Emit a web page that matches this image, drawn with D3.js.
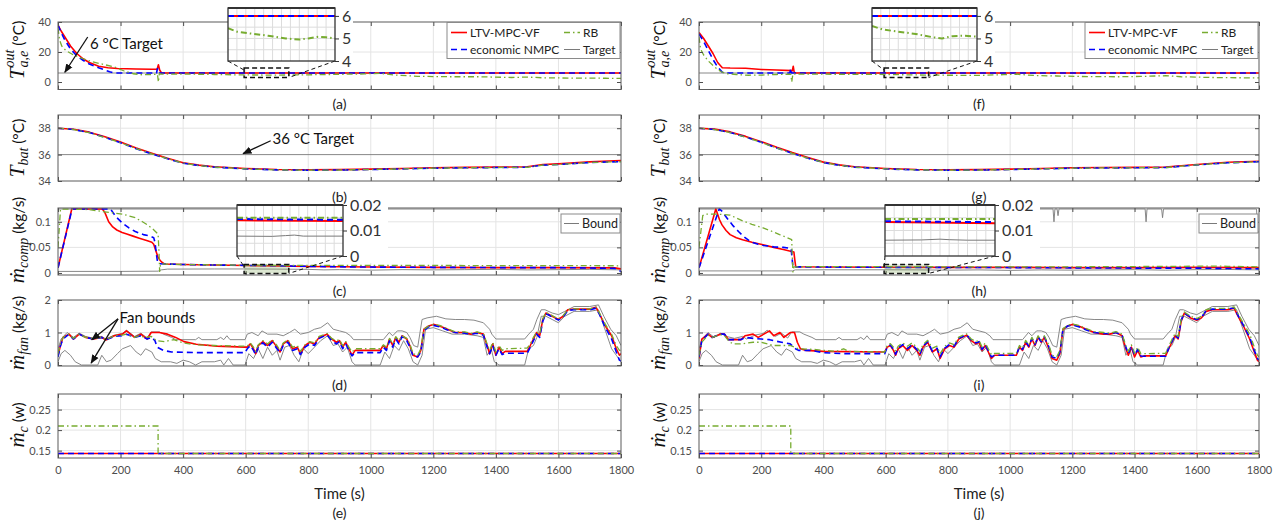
<!DOCTYPE html>
<html>
<head>
<meta charset="utf-8">
<script src="https://cdn.jsdelivr.net/npm/d3@7"></script>
<style>
  body { margin: 0; background: #fff; }
  text { font-family: Lato, "Open Sans", sans-serif; }
</style>
</head>
<body>
<svg id="chart" width="1284" height="521"></svg>
<script>
// ---------- data ----------
const timeTicks = [0, 200, 400, 600, 800, 1000, 1200, 1400, 1600, 1800];
const panelLetters = [['(a)', '(b)', '(c)', '(d)', '(e)'], ['(f)', '(g)', '(h)', '(i)', '(j)']];
const legendNames = ['LTV-MPC-VF', 'economic NMPC', 'RB', 'Target'];

// (a)/(f) evaporator outlet air temperature
const toutTarget = [[0, 6], [1800, 6]];
const toutRedL = [[0, 38], [10, 34], [22, 30], [40, 24], [60, 19], [80, 15.5], [100, 13], [130, 10.5], [160, 9.5], [190, 9], [250, 8.7], [300, 8.5], [317, 8.5], [321, 11.5], [325, 8], [331, 6], [1800, 6]];
const toutBlueL = [[0, 38], [10, 33], [22, 28], [40, 22], [60, 17.5], [80, 14.5], [100, 12], [130, 9.5], [150, 8], [165, 6.8], [180, 6], [315, 6], [318, 9], [321, 6], [1800, 6]];
const toutGreenL = [[0, 36], [5, 28], [12, 24], [25, 21], [50, 18], [80, 15.5], [110, 13.5], [150, 11.5], [180, 10], [210, 7.5], [240, 5.5], [270, 4.8], [300, 5], [318, 5.2], [321, 0], [324, 5.5], [330, 5.2], [400, 5.3], [500, 5], [600, 4.7], [700, 4.6], [800, 4.8], [900, 5.1], [980, 5.4], [1030, 5.8], [1080, 4.6], [1150, 3.8], [1250, 3.5], [1350, 3.5], [1450, 3], [1500, 3.3], [1550, 2.8], [1650, 2.6], [1750, 2.5], [1800, 2.4]];
const toutRedR = [[0, 33], [15, 29], [30, 24], [45, 19], [60, 13], [75, 9.5], [100, 9.3], [150, 9.2], [200, 8.3], [250, 8], [300, 7.6], [303, 10.5], [306, 6.5], [310, 6], [1800, 6]];
const toutBlueR = [[0, 32], [15, 27], [30, 21], [45, 15], [60, 10], [75, 6.5], [85, 6], [292, 6], [295, 9], [298, 6], [1800, 6]];
const toutGreenR = [[0, 30], [5, 22], [15, 18], [30, 14], [50, 10], [70, 7], [90, 5.5], [120, 5], [160, 4.5], [200, 4.6], [250, 5], [295, 5.2], [298, 0], [302, 5.5], [310, 5.2], [400, 5.2], [500, 5.1], [600, 5], [700, 4.7], [800, 4.5], [900, 4.4], [980, 4.9], [1020, 5.2], [1080, 4.3], [1150, 4], [1250, 3.6], [1350, 3.5], [1420, 3.7], [1500, 4.2], [1550, 3.5], [1650, 3], [1750, 2.8], [1800, 2.8]];

// (b)/(g) battery temperature
const tbatTarget = [[0, 36], [1800, 36]];
const tbatRedL = [[0, 38], [50, 37.92], [100, 37.7], [150, 37.35], [200, 36.95], [250, 36.5], [300, 36.1], [350, 35.72], [400, 35.38], [450, 35.2], [500, 35.08], [600, 34.95], [700, 34.87], [800, 34.85], [900, 34.86], [1000, 34.9], [1100, 34.95], [1200, 35.0], [1300, 35.03], [1400, 35.05], [1500, 35.08], [1550, 35.25], [1600, 35.3], [1700, 35.45], [1800, 35.55]];
const tbatBlueL = [[0, 38], [50, 37.9], [100, 37.67], [150, 37.3], [200, 36.9], [250, 36.45], [300, 36.05], [350, 35.68], [400, 35.35], [450, 35.17], [500, 35.05], [600, 34.92], [700, 34.84], [800, 34.82], [900, 34.83], [1000, 34.87], [1100, 34.92], [1200, 34.97], [1300, 35.0], [1400, 35.02], [1500, 35.04], [1550, 35.2], [1600, 35.25], [1700, 35.4], [1800, 35.47]];
const tbatGreenL = [[0, 38], [50, 37.9], [100, 37.66], [150, 37.3], [200, 36.9], [250, 36.46], [300, 36.06], [350, 35.69], [400, 35.36], [450, 35.17], [500, 35.05], [600, 34.92], [700, 34.84], [800, 34.82], [900, 34.83], [1000, 34.87], [1100, 34.92], [1200, 34.97], [1300, 35.0], [1400, 35.02], [1500, 35.04], [1550, 35.2], [1600, 35.25], [1700, 35.4], [1800, 35.46]];
const tbatRedR = [[0, 38], [50, 37.93], [100, 37.72], [150, 37.38], [200, 36.98], [250, 36.55], [300, 36.15], [350, 35.78], [400, 35.43], [450, 35.22], [500, 35.08], [600, 34.95], [700, 34.87], [800, 34.85], [900, 34.86], [1000, 34.9], [1100, 34.95], [1200, 35.0], [1300, 35.02], [1400, 35.03], [1500, 35.05], [1550, 35.15], [1600, 35.25], [1700, 35.42], [1800, 35.5]];
const tbatBlueR = [[0, 38], [50, 37.9], [100, 37.68], [150, 37.33], [200, 36.93], [250, 36.5], [300, 36.1], [350, 35.73], [400, 35.4], [450, 35.19], [500, 35.05], [600, 34.92], [700, 34.84], [800, 34.82], [900, 34.83], [1000, 34.87], [1100, 34.92], [1200, 34.97], [1300, 34.99], [1400, 35.0], [1500, 35.02], [1550, 35.12], [1600, 35.22], [1700, 35.38], [1800, 35.46]];
const tbatGreenR = [[0, 38], [50, 37.9], [100, 37.67], [150, 37.32], [200, 36.92], [250, 36.5], [300, 36.1], [350, 35.73], [400, 35.4], [450, 35.19], [500, 35.05], [600, 34.92], [700, 34.84], [800, 34.82], [900, 34.83], [1000, 34.87], [1100, 34.92], [1200, 34.97], [1300, 34.99], [1400, 35.0], [1500, 35.02], [1550, 35.12], [1600, 35.22], [1700, 35.38], [1800, 35.45]];

// (c)/(h) compressor mass flow
const compRedL = [[0, 0.01], [44, 0.125], [142, 0.125], [150, 0.118], [162, 0.1], [175, 0.09], [188, 0.084], [205, 0.079], [220, 0.076], [240, 0.072], [260, 0.068], [286, 0.063], [300, 0.06], [306, 0.056], [312, 0.045], [319, 0.032], [326, 0.025], [332, 0.021], [340, 0.0175], [400, 0.0165], [500, 0.0155], [600, 0.0145], [700, 0.0135], [800, 0.0125], [900, 0.012], [1000, 0.0115], [1200, 0.011], [1400, 0.0105], [1600, 0.0105], [1780, 0.01], [1800, 0.008]];
const compBlueL = [[0, 0.01], [45, 0.125], [168, 0.125], [185, 0.11], [207, 0.097], [227, 0.088], [247, 0.081], [273, 0.075], [295, 0.072], [306, 0.069], [310, 0.06], [314, 0.04], [318, 0.022], [325, 0.018], [340, 0.0175], [400, 0.0165], [500, 0.0155], [600, 0.0148], [700, 0.014], [800, 0.013], [900, 0.012], [1000, 0.0115], [1200, 0.011], [1400, 0.0105], [1600, 0.0105], [1780, 0.009], [1800, 0.003]];
const compGreenL = [[0, 0.05], [8, 0.125], [100, 0.124], [142, 0.12], [207, 0.115], [247, 0.108], [270, 0.1], [286, 0.094], [305, 0.085], [320, 0.076], [323, 0.04], [325, 0.003], [328, 0.018], [340, 0.0175], [400, 0.0165], [500, 0.0158], [600, 0.0152], [700, 0.015], [900, 0.0148], [1100, 0.0148], [1300, 0.0145], [1500, 0.0145], [1700, 0.0142], [1800, 0.014]];
const compLowL = [[0, 0.003], [200, 0.003], [320, 0.0035], [330, 0.006], [350, 0.0075], [500, 0.0078], [600, 0.0078], [700, 0.0075], [800, 0.007], [850, 0.006], [900, 0.0065], [1000, 0.0055], [1100, 0.0065], [1200, 0.006], [1300, 0.0065], [1400, 0.007], [1500, 0.006], [1600, 0.0065], [1700, 0.007], [1800, 0.006]];
const compUpL = [[0, 0.125], [1800, 0.125]];
const compRedR = [[0, 0.01], [54, 0.125], [58, 0.118], [66, 0.104], [74, 0.094], [87, 0.083], [100, 0.075], [120, 0.069], [140, 0.065], [170, 0.06], [206, 0.055], [240, 0.05], [271, 0.046], [291, 0.043], [305, 0.041], [308, 0.025], [311, 0.012], [400, 0.0115], [600, 0.0112], [800, 0.011], [1000, 0.011], [1200, 0.0105], [1400, 0.0105], [1600, 0.011], [1800, 0.0105]];
const compBlueR = [[0, 0.01], [65, 0.125], [72, 0.122], [94, 0.104], [110, 0.092], [127, 0.081], [146, 0.07], [166, 0.061], [190, 0.056], [206, 0.054], [240, 0.051], [271, 0.05], [296, 0.048], [299, 0.03], [302, 0.012], [400, 0.0115], [600, 0.011], [800, 0.0108], [1000, 0.0105], [1200, 0.01], [1400, 0.0095], [1600, 0.0095], [1800, 0.008]];
const compGreenR = [[0, 0.05], [12, 0.112], [21, 0.115], [60, 0.115], [100, 0.113], [140, 0.102], [170, 0.095], [206, 0.088], [240, 0.08], [259, 0.075], [280, 0.07], [298, 0.065], [300, 0.03], [302, 0.002], [305, 0.012], [400, 0.0125], [600, 0.0125], [800, 0.012], [1000, 0.012], [1200, 0.012], [1400, 0.0125], [1550, 0.013], [1650, 0.0135], [1700, 0.013], [1800, 0.012]];
const compLowR = [[0, 0.004], [200, 0.004], [300, 0.004], [310, 0.006], [400, 0.0062], [600, 0.0062], [700, 0.006], [800, 0.0055], [900, 0.006], [1000, 0.005], [1100, 0.006], [1200, 0.0055], [1300, 0.006], [1400, 0.0065], [1500, 0.0055], [1600, 0.0065], [1700, 0.0068], [1800, 0.006]];
const compUpR = [[0, 0.125], [1138, 0.125], [1141, 0.1], [1144, 0.125], [1151, 0.125], [1154, 0.112], [1157, 0.125], [1434, 0.125], [1437, 0.1], [1440, 0.125], [1487, 0.125], [1490, 0.108], [1493, 0.125], [1792, 0.125], [1796, 0.08], [1800, 0.08]];

// (d)/(i) fan mass flow
const fanUpper = [[0, 0.5], [10, 0.8], [29, 1.0], [49, 0.85], [68, 0.98], [88, 0.88], [114, 0.82], [140, 0.88], [153, 0.8], [180, 0.92], [206, 0.97], [219, 1.07], [245, 0.88], [265, 0.98], [285, 0.83], [298, 1.02], [324, 1.02], [337, 0.95], [363, 0.85], [376, 0.78], [440, 0.78], [450, 0.85], [460, 0.78], [508, 0.78], [520, 0.85], [530, 0.78], [540, 0.9], [550, 0.78], [598, 0.78], [605, 0.95], [620, 1.0], [640, 0.9], [652, 1.05], [670, 0.95], [700, 0.95], [720, 0.9], [740, 1.0], [757, 1.1], [775, 0.95], [800, 1.0], [820, 1.1], [840, 1.15], [862, 1.3], [880, 1.1], [900, 1.05], [920, 1.0], [935, 0.9], [945, 0.78], [1040, 0.78], [1059, 1.0], [1070, 0.9], [1085, 1.05], [1100, 1.05], [1115, 1.0], [1125, 0.85], [1137, 0.6], [1150, 0.55], [1164, 1.4], [1180, 1.45], [1210, 1.5], [1240, 1.42], [1270, 1.4], [1300, 1.4], [1330, 1.38], [1360, 1.3], [1380, 1.1], [1387, 0.95], [1400, 0.8], [1492, 0.8], [1505, 0.95], [1520, 1.1], [1531, 1.4], [1545, 1.7], [1557, 1.7], [1580, 1.6], [1600, 1.55], [1620, 1.65], [1650, 1.8], [1700, 1.8], [1728, 1.85], [1745, 1.5], [1767, 1.1], [1785, 0.9], [1800, 0.6]];
const fanLower = [[0, 0.1], [10, 0.35], [22, 0.45], [40, 0.3], [55, 0.1], [75, 0], [127, 0], [140, 0.3], [155, 0.1], [170, 0.15], [190, 0.35], [206, 0.5], [232, 0.6], [250, 0.4], [265, 0.3], [280, 0.5], [300, 0.4], [311, 0.2], [330, 0.1], [360, 0.1], [380, 0.05], [400, 0.15], [420, 0.1], [440, 0], [460, 0.1], [500, 0.1], [520, 0.15], [530, 0], [545, 0.2], [560, 0], [598, 0], [610, 0.35], [625, 0.2], [640, 0.5], [655, 0.2], [670, 0.55], [685, 0.3], [700, 0.45], [710, 0.15], [725, 0.55], [740, 0.6], [755, 0.3], [770, 0.1], [785, 0.5], [800, 0.35], [820, 0.55], [840, 0.75], [862, 0.9], [880, 0.6], [895, 0.65], [910, 0.4], [925, 0.55], [940, 0.1], [950, 0], [1030, 0], [1045, 0.4], [1060, 0.2], [1075, 0.6], [1090, 0.45], [1105, 0.75], [1120, 0.5], [1135, 0.1], [1150, 0], [1164, 0.3], [1175, 1.1], [1200, 1.15], [1230, 1.05], [1260, 0.95], [1300, 0.95], [1340, 0.9], [1360, 0.85], [1372, 0.3], [1385, 0.5], [1395, 0.1], [1410, 0], [1492, 0], [1505, 0.5], [1520, 0.6], [1531, 0.85], [1545, 1.5], [1560, 1.5], [1580, 1.4], [1600, 1.3], [1620, 1.5], [1650, 1.65], [1700, 1.65], [1728, 1.7], [1745, 1.2], [1770, 0.5], [1785, 0.3], [1800, 0.1]];
const fanRedL = [[0, 0.3], [8, 0.6], [16, 0.85], [35, 0.95], [49, 0.8], [68, 0.95], [88, 0.85], [114, 0.8], [140, 0.85], [153, 0.77], [180, 0.9], [206, 0.95], [219, 1.05], [245, 0.85], [265, 0.95], [285, 0.8], [298, 1.0], [324, 1.0], [350, 0.95], [376, 0.85], [403, 0.72], [442, 0.64], [508, 0.58], [598, 0.55],
  [605, 0.55], [615, 0.65], [625, 0.5], [632, 0.35], [640, 0.6], [655, 0.72], [670, 0.6], [685, 0.75], [700, 0.55], [710, 0.4], [720, 0.65], [735, 0.75], [750, 0.5], [765, 0.55], [775, 0.35], [790, 0.6], [805, 0.7], [820, 0.65], [835, 0.85], [860, 0.95], [875, 0.8], [890, 0.7], [900, 0.75], [910, 0.55], [920, 0.7], [930, 0.5], [940, 0.3], [950, 0.45], [1030, 0.45], [1040, 0.6], [1050, 0.5], [1060, 0.8], [1070, 0.6], [1080, 0.85], [1090, 0.7], [1100, 0.9], [1115, 0.8], [1125, 0.6], [1135, 0.3], [1150, 0.25], [1160, 0.45], [1170, 1.1], [1185, 1.2], [1200, 1.25], [1220, 1.2], [1245, 1.1], [1270, 1.0], [1300, 1.0], [1320, 0.95], [1340, 1.0], [1360, 0.95], [1372, 0.6], [1380, 0.35], [1390, 0.65], [1400, 0.3], [1410, 0.55], [1420, 0.35], [1430, 0.42], [1500, 0.42], [1510, 0.6], [1520, 0.8], [1530, 1.0], [1540, 0.9], [1550, 1.4], [1560, 1.6], [1580, 1.5], [1600, 1.4], [1615, 1.5], [1630, 1.7], [1650, 1.72], [1700, 1.72], [1720, 1.78], [1730, 1.6], [1750, 1.2], [1770, 0.9], [1785, 0.5], [1795, 0.3], [1800, 0.35]];
const fanBlueL = [[0, 0.25], [8, 0.6], [16, 0.8], [35, 0.95], [49, 0.8], [68, 0.95], [88, 0.85], [114, 0.8], [140, 0.85], [153, 0.77], [180, 0.88], [206, 0.9], [219, 0.95], [245, 0.85], [265, 0.9], [285, 0.8], [300, 0.85], [310, 0.75], [317, 0.55], [337, 0.45], [363, 0.4], [450, 0.38], [598, 0.38],
  [605, 0.5], [615, 0.6], [625, 0.45], [632, 0.32], [640, 0.55], [655, 0.68], [670, 0.55], [685, 0.7], [700, 0.5], [710, 0.38], [720, 0.6], [735, 0.7], [750, 0.45], [765, 0.5], [775, 0.32], [790, 0.55], [805, 0.65], [820, 0.6], [835, 0.82], [860, 0.93], [875, 0.75], [890, 0.65], [900, 0.72], [910, 0.5], [920, 0.65], [930, 0.45], [940, 0.28], [950, 0.38], [1030, 0.38], [1040, 0.55], [1050, 0.45], [1060, 0.75], [1070, 0.55], [1080, 0.8], [1090, 0.65], [1100, 0.88], [1115, 0.75], [1125, 0.55], [1135, 0.28], [1150, 0.25], [1160, 0.4], [1170, 1.05], [1185, 1.18], [1200, 1.22], [1220, 1.18], [1245, 1.08], [1270, 1.0], [1300, 0.98], [1320, 0.95], [1340, 0.98], [1360, 0.92], [1372, 0.55], [1380, 0.35], [1390, 0.6], [1400, 0.3], [1410, 0.5], [1420, 0.32], [1430, 0.36], [1500, 0.36], [1510, 0.55], [1520, 0.75], [1530, 0.95], [1540, 0.85], [1550, 1.35], [1560, 1.58], [1580, 1.48], [1600, 1.38], [1615, 1.48], [1630, 1.68], [1650, 1.7], [1700, 1.7], [1720, 1.75], [1730, 1.58], [1750, 1.15], [1770, 0.8], [1785, 0.4], [1795, 0.15], [1800, 0.12]];
const fanGreenL = [[0, 0.35], [8, 0.65], [16, 0.85], [35, 0.95], [49, 0.82], [68, 0.95], [88, 0.85], [114, 0.82], [140, 0.85], [153, 0.78], [180, 0.9], [206, 0.92], [219, 0.95], [245, 0.85], [258, 0.9], [280, 0.85], [298, 0.88], [315, 0.75], [340, 0.72], [370, 0.78], [400, 0.68], [420, 0.65], [450, 0.62], [500, 0.6], [598, 0.58],
  [605, 0.58], [615, 0.68], [625, 0.55], [632, 0.42], [640, 0.62], [655, 0.75], [670, 0.65], [685, 0.78], [700, 0.6], [710, 0.45], [720, 0.68], [735, 0.78], [750, 0.55], [765, 0.6], [775, 0.42], [790, 0.62], [805, 0.72], [820, 0.68], [835, 0.88], [860, 0.97], [875, 0.82], [890, 0.75], [900, 0.78], [910, 0.6], [920, 0.72], [930, 0.55], [940, 0.4], [950, 0.5], [1030, 0.5], [1040, 0.62], [1050, 0.55], [1060, 0.82], [1070, 0.65], [1080, 0.87], [1090, 0.75], [1100, 0.9], [1115, 0.82], [1125, 0.65], [1135, 0.35], [1150, 0.3], [1160, 0.5], [1170, 1.1], [1185, 1.2], [1200, 1.25], [1220, 1.22], [1245, 1.12], [1270, 1.02], [1300, 1.02], [1320, 0.97], [1340, 1.02], [1360, 0.97], [1372, 0.65], [1380, 0.45], [1390, 0.7], [1400, 0.4], [1410, 0.6], [1420, 0.45], [1430, 0.5], [1500, 0.52], [1510, 0.65], [1520, 0.85], [1530, 1.02], [1540, 0.95], [1550, 1.42], [1560, 1.62], [1580, 1.52], [1600, 1.42], [1615, 1.52], [1630, 1.7], [1650, 1.73], [1700, 1.73], [1720, 1.78], [1730, 1.62], [1750, 1.25], [1770, 0.95], [1785, 0.6], [1795, 0.45], [1800, 0.45]];
const fanRedR = [[0, 0.2], [9, 0.8], [29, 0.95], [42, 0.85], [69, 0.95], [82, 0.95], [95, 0.78], [135, 0.78], [148, 0.9], [174, 0.95], [190, 0.85], [227, 1.05], [240, 0.9], [260, 1.0], [273, 0.85], [293, 1.0], [307, 1.0], [316, 0.7], [326, 0.5], [345, 0.45], [400, 0.42], [597, 0.4],
  [605, 0.55], [615, 0.6], [625, 0.45], [632, 0.3], [640, 0.5], [655, 0.6], [670, 0.45], [685, 0.6], [700, 0.45], [710, 0.3], [720, 0.55], [735, 0.7], [750, 0.4], [765, 0.5], [775, 0.2], [790, 0.5], [805, 0.6], [820, 0.55], [835, 0.8], [860, 0.92], [875, 0.75], [890, 0.65], [900, 0.7], [910, 0.45], [920, 0.6], [930, 0.4], [940, 0.2], [950, 0.3], [1020, 0.3], [1030, 0.55], [1040, 0.45], [1050, 0.7], [1060, 0.55], [1070, 0.8], [1080, 0.6], [1090, 0.85], [1100, 0.7], [1110, 0.85], [1125, 0.5], [1135, 0.2], [1150, 0.15], [1160, 0.35], [1170, 1.1], [1185, 1.2], [1200, 1.25], [1220, 1.2], [1245, 1.1], [1270, 1.0], [1300, 0.95], [1320, 0.95], [1340, 1.0], [1360, 0.9], [1372, 0.5], [1380, 0.3], [1390, 0.55], [1400, 0.25], [1410, 0.45], [1420, 0.25], [1430, 0.28], [1500, 0.28], [1510, 0.5], [1520, 0.7], [1530, 0.9], [1540, 0.8], [1550, 1.35], [1560, 1.6], [1580, 1.45], [1600, 1.38], [1615, 1.45], [1630, 1.65], [1650, 1.7], [1700, 1.7], [1720, 1.75], [1730, 1.55], [1750, 1.2], [1770, 0.8], [1785, 0.4], [1795, 0.15], [1800, 0.1]];
const fanBlueR = [[0, 0.25], [9, 0.75], [29, 0.95], [42, 0.85], [69, 0.95], [82, 0.95], [95, 0.78], [135, 0.78], [148, 0.85], [174, 0.82], [200, 0.8], [227, 0.78], [240, 0.75], [265, 0.7], [293, 0.65], [310, 0.5], [320, 0.45], [360, 0.45], [400, 0.38], [465, 0.35], [597, 0.35],
  [605, 0.55], [615, 0.62], [625, 0.48], [632, 0.33], [640, 0.52], [655, 0.63], [670, 0.5], [685, 0.63], [700, 0.48], [710, 0.33], [720, 0.58], [735, 0.72], [750, 0.43], [765, 0.52], [775, 0.25], [790, 0.52], [805, 0.63], [820, 0.58], [835, 0.82], [860, 0.93], [875, 0.77], [890, 0.68], [900, 0.72], [910, 0.48], [920, 0.63], [930, 0.43], [940, 0.25], [950, 0.3], [1020, 0.3], [1030, 0.57], [1040, 0.48], [1050, 0.72], [1060, 0.58], [1070, 0.82], [1080, 0.63], [1090, 0.87], [1100, 0.72], [1110, 0.87], [1125, 0.55], [1135, 0.25], [1150, 0.2], [1160, 0.4], [1170, 1.1], [1185, 1.2], [1200, 1.23], [1220, 1.18], [1245, 1.08], [1270, 1.0], [1300, 0.97], [1320, 0.96], [1340, 1.0], [1360, 0.92], [1372, 0.55], [1380, 0.35], [1390, 0.58], [1400, 0.3], [1410, 0.48], [1420, 0.28], [1430, 0.27], [1500, 0.27], [1510, 0.52], [1520, 0.72], [1530, 0.92], [1540, 0.83], [1550, 1.38], [1560, 1.6], [1580, 1.47], [1600, 1.4], [1615, 1.47], [1630, 1.67], [1650, 1.72], [1700, 1.72], [1720, 1.76], [1730, 1.57], [1750, 1.22], [1770, 0.85], [1785, 0.45], [1795, 0.2], [1800, 0.15]];
const fanGreenR = [[0, 0.3], [9, 0.7], [29, 0.92], [42, 0.85], [69, 0.93], [82, 0.9], [95, 0.75], [108, 0.65], [135, 0.65], [174, 0.7], [200, 0.7], [240, 0.6], [293, 0.6], [320, 0.5], [370, 0.48], [400, 0.45], [440, 0.42], [465, 0.5], [480, 0.42], [597, 0.4],
  [605, 0.6], [615, 0.66], [625, 0.55], [632, 0.42], [640, 0.58], [655, 0.68], [670, 0.58], [685, 0.68], [700, 0.55], [710, 0.42], [720, 0.63], [735, 0.76], [750, 0.52], [765, 0.58], [775, 0.35], [790, 0.58], [805, 0.68], [820, 0.63], [835, 0.86], [860, 0.96], [875, 0.8], [890, 0.72], [900, 0.76], [910, 0.55], [920, 0.68], [930, 0.5], [940, 0.32], [950, 0.36], [1020, 0.36], [1030, 0.6], [1040, 0.52], [1050, 0.76], [1060, 0.62], [1070, 0.85], [1080, 0.68], [1090, 0.9], [1100, 0.76], [1110, 0.9], [1125, 0.6], [1135, 0.3], [1150, 0.25], [1160, 0.45], [1170, 1.12], [1185, 1.22], [1200, 1.26], [1220, 1.22], [1245, 1.12], [1270, 1.03], [1300, 1.0], [1320, 0.98], [1340, 1.03], [1360, 0.95], [1372, 0.6], [1380, 0.42], [1390, 0.62], [1400, 0.36], [1410, 0.55], [1420, 0.35], [1430, 0.35], [1500, 0.36], [1510, 0.58], [1520, 0.78], [1530, 0.96], [1540, 0.88], [1550, 1.42], [1560, 1.63], [1580, 1.5], [1600, 1.43], [1615, 1.5], [1630, 1.7], [1650, 1.74], [1700, 1.74], [1720, 1.79], [1730, 1.62], [1750, 1.28], [1770, 0.95], [1785, 0.55], [1795, 0.3], [1800, 0.25]];

// (e)/(j) coolant flow
const coolRed = [[0, 0.143], [1800, 0.143]];
const coolBlue = [[0, 0.143], [1800, 0.143]];
const coolGreenL = [[0, 0.21], [320, 0.21], [320, 0.143], [1800, 0.143]];
const coolGreenR = [[0, 0.21], [295, 0.21], [295, 0.143], [1800, 0.143]];

// zoomed insets (time 600-720 s)
const insetTicksX = [610, 620, 630, 640, 650, 660, 670, 680, 690, 700, 710];
const insetToutRed = [[600, 6], [720, 6]];
const insetToutBlue = [[600, 6], [720, 6]];
const insetToutGreenL = [[600, 5.45], [610, 5.3], [625, 5.22], [645, 5.12], [665, 5.0], [680, 4.95], [690, 5.0], [700, 5.07], [710, 5.05], [720, 5.0]];
const insetToutGreenR = [[600, 5.55], [612, 5.4], [630, 5.3], [650, 5.2], [670, 5.05], [680, 5.0], [692, 5.1], [705, 5.12], [720, 5.08]];
const insetCompRedL = [[600, 0.014], [720, 0.0137]];
const insetCompBlueL = [[600, 0.0145], [720, 0.0142]];
const insetCompGreenL = [[600, 0.015], [720, 0.015]];
const insetCompLowL = [[600, 0.0078], [640, 0.0077], [655, 0.008], [665, 0.0082], [675, 0.0078], [720, 0.0078]];
const insetCompRedR = [[600, 0.0133], [720, 0.0128]];
const insetCompBlueR = [[600, 0.0136], [720, 0.0133]];
const insetCompGreenR = [[600, 0.0145], [720, 0.0145]];
const insetCompLowR = [[600, 0.0062], [640, 0.0063], [660, 0.0066], [670, 0.0064], [690, 0.0062], [720, 0.0062]];

// ---------- layout / style ----------
const svg = d3.select('#chart');
const colX = [[58, 621], [699, 1259]];
const rowY = [[22, 89.5], [115, 181], [208, 275], [300, 366], [394, 458]];
const letterY = [103, 196, 290, 384, 512];
const panels = [
  { domain: [-5, 40], ticks: [0, 20, 40], grid: [20], fmt: d => d },
  { domain: [34, 39], ticks: [34, 36, 38], grid: [38], fmt: d => d },
  { domain: [-0.004, 0.127], ticks: [0, 0.05, 0.1], grid: [0.05, 0.1], fmt: d => d },
  { domain: [-0.03, 2], ticks: [0, 1, 2], grid: [1], fmt: d => d },
  { domain: [0.132, 0.288], ticks: [0.15, 0.2, 0.25], grid: [0.15, 0.2, 0.25], fmt: d => d }
];
const STYLE = {
  red: { stroke: '#ff0000', width: 1.6, dash: null },
  blue: { stroke: '#0000ff', width: 1.6, dash: '6,4' },
  green: { stroke: '#77ac30', width: 1.3, dash: '6,3,1.5,3' },
  gray: { stroke: '#7a7a7a', width: 0.9, dash: null }
};

const columns = [
  [
    [['gray', toutTarget], ['red', toutRedL], ['blue', toutBlueL], ['green', toutGreenL]],
    [['gray', tbatTarget], ['red', tbatRedL], ['blue', tbatBlueL], ['green', tbatGreenL]],
    [['gray', compLowL], ['gray', compUpL], ['red', compRedL], ['blue', compBlueL], ['green', compGreenL]],
    [['gray', fanUpper], ['gray', fanLower], ['red', fanRedL], ['blue', fanBlueL], ['green', fanGreenL]],
    [['red', coolRed], ['blue', coolBlue], ['green', coolGreenL]]
  ],
  [
    [['gray', toutTarget], ['red', toutRedR], ['blue', toutBlueR], ['green', toutGreenR]],
    [['gray', tbatTarget], ['red', tbatRedR], ['blue', tbatBlueR], ['green', tbatGreenR]],
    [['gray', compLowR], ['gray', compUpR], ['red', compRedR], ['blue', compBlueR], ['green', compGreenR]],
    [['gray', fanUpper], ['gray', fanLower], ['red', fanRedR], ['blue', fanBlueR], ['green', fanGreenR]],
    [['red', coolRed], ['blue', coolBlue], ['green', coolGreenR]]
  ]
];

const defs = svg.append('defs');
defs.append('marker').attr('id', 'arrow').attr('viewBox', '0 0 10 10')
  .attr('refX', 9).attr('refY', 5).attr('markerWidth', 7).attr('markerHeight', 7)
  .attr('orient', 'auto-start-reverse')
  .append('path').attr('d', 'M0,1 L10,5 L0,9 z').attr('fill', '#111');

function styleLine(sel, key) {
  const s = STYLE[key];
  sel.attr('fill', 'none').attr('stroke', s.stroke).attr('stroke-width', s.width)
    .attr('stroke-dasharray', s.dash).attr('stroke-linejoin', 'round');
}

function drawPanel(c, p) {
  const [x0, x1] = colX[c];
  const [yTop, yBot] = rowY[p];
  const cfg = panels[p];
  const x = d3.scaleLinear().domain([0, 1800]).range([x0, x1]);
  const y = d3.scaleLinear().domain(cfg.domain).range([yBot, yTop]);
  const g = svg.append('g');
  const clipId = 'clip-' + c + '-' + p;
  defs.append('clipPath').attr('id', clipId).append('rect')
    .attr('x', x0).attr('y', yTop).attr('width', x1 - x0).attr('height', yBot - yTop);

  // grid
  g.append('g').selectAll('line').data(timeTicks.slice(1, -1)).join('line')
    .attr('x1', d => x(d)).attr('x2', d => x(d)).attr('y1', yTop).attr('y2', yBot)
    .attr('stroke', '#e4e4e4').attr('stroke-width', 1);
  g.append('g').selectAll('line').data(cfg.grid).join('line')
    .attr('x1', x0).attr('x2', x1).attr('y1', d => y(d)).attr('y2', d => y(d))
    .attr('stroke', '#e4e4e4').attr('stroke-width', 1);

  // series
  const line = d3.line().x(d => x(d[0])).y(d => y(d[1]));
  const lines = g.append('g').attr('clip-path', 'url(#' + clipId + ')');
  columns[c][p].forEach(([key, data]) => {
    lines.append('path').datum(data).attr('d', line).call(styleLine, key);
  });

  // axes (inward ticks like MATLAB)
  const axisStyle = a => {
    a.select('.domain').remove();
    a.selectAll('.tick line').attr('stroke', '#4d4d4d');
    a.selectAll('.tick text').attr('fill', '#4d4d4d').style('font-size', '11px')
      .style('font-family', 'Lato, sans-serif');
  };
  g.append('g').attr('transform', 'translate(0,' + yBot + ')')
    .call(d3.axisBottom(x).tickValues(timeTicks).tickSize(-4).tickPadding(8)
      .tickFormat(p === 4 ? d3.format('d') : ''))
    .call(axisStyle);
  g.append('g').attr('transform', 'translate(0,' + yTop + ')')
    .call(d3.axisTop(x).tickValues(timeTicks).tickSize(-4).tickFormat(''))
    .call(axisStyle);
  g.append('g').attr('transform', 'translate(' + x0 + ',0)')
    .call(d3.axisLeft(y).tickValues(cfg.ticks).tickSize(-4).tickPadding(7).tickFormat(cfg.fmt))
    .call(axisStyle);
  g.append('g').attr('transform', 'translate(' + x1 + ',0)')
    .call(d3.axisRight(y).tickValues(cfg.ticks).tickSize(-4).tickFormat(''))
    .call(axisStyle);

  g.append('rect').attr('x', x0).attr('y', yTop).attr('width', x1 - x0).attr('height', yBot - yTop)
    .attr('fill', 'none').attr('stroke', '#5a5a5a').attr('stroke-width', 1);
  return { x, y };
}

function yLabel(cx, cy, sym, sub, sup, unit) {
  const t = svg.append('text').attr('transform', 'translate(' + cx + ',' + cy + ') rotate(-90)')
    .attr('text-anchor', 'middle').attr('fill', '#111');
  t.append('tspan').text(sym).attr('font-family', 'Liberation Serif, DejaVu Serif, serif')
    .attr('font-style', 'italic').attr('font-size', 21);
  const s = t.append('tspan').text(sub).attr('font-family', 'Liberation Serif, DejaVu Serif, serif')
    .attr('font-style', 'italic').attr('font-size', 14).attr('dy', 4);
  let back = 4;
  if (sup) {
    const w = s.node().getComputedTextLength();
    t.append('tspan').text(sup).attr('font-family', 'Liberation Serif, DejaVu Serif, serif')
      .attr('font-style', 'italic').attr('font-size', 14).attr('dx', -w).attr('dy', -14);
    back = -10;
  }
  t.append('tspan').text(unit).attr('font-family', 'Lato, sans-serif').attr('font-size', 15.5)
    .attr('dy', -back);
}

function drawInset(box, yDom, yTicks, yGrid, fmt, series) {
  const x = d3.scaleLinear().domain([600, 720]).range([box.x0, box.x1]);
  const y = d3.scaleLinear().domain(yDom).range([box.y1, box.y0]);
  const g = svg.append('g');
  g.append('rect').attr('x', box.x1).attr('y', box.y0 - 7).attr('width', box.labelW)
    .attr('height', box.y1 - box.y0 + 14).attr('fill', '#fff');
  g.append('rect').attr('x', box.x0).attr('y', box.y0).attr('width', box.x1 - box.x0)
    .attr('height', box.y1 - box.y0).attr('fill', '#fff');
  g.append('g').selectAll('line').data(insetTicksX).join('line')
    .attr('x1', d => x(d)).attr('x2', d => x(d)).attr('y1', box.y0).attr('y2', box.y1)
    .attr('stroke', '#dcdcdc');
  g.append('g').selectAll('line').data(yGrid).join('line')
    .attr('x1', box.x0).attr('x2', box.x1).attr('y1', d => y(d)).attr('y2', d => y(d))
    .attr('stroke', '#dcdcdc');
  const clipId = 'inset-' + box.x0;
  defs.append('clipPath').attr('id', clipId).append('rect')
    .attr('x', box.x0).attr('y', box.y0).attr('width', box.x1 - box.x0).attr('height', box.y1 - box.y0);
  const line = d3.line().x(d => x(d[0])).y(d => y(d[1]));
  const lg = g.append('g').attr('clip-path', 'url(#' + clipId + ')');
  series.forEach(([key, data]) => {
    lg.append('path').datum(data).attr('d', line).call(styleLine, key)
      .attr('stroke-width', key === 'gray' ? 1 : 2);
  });
  g.append('rect').attr('x', box.x0).attr('y', box.y0).attr('width', box.x1 - box.x0)
    .attr('height', box.y1 - box.y0).attr('fill', 'none').attr('stroke', '#333').attr('stroke-width', 1.3);
  g.append('line').attr('x1', box.x0).attr('x2', box.x1).attr('y1', box.y0).attr('y2', box.y0)
    .attr('stroke', '#333').attr('stroke-width', 2.2);
  const ax = g.append('g').attr('transform', 'translate(' + box.x1 + ',0)')
    .call(d3.axisRight(y).tickValues(yTicks).tickSize(4).tickPadding(3).tickFormat(fmt));
  ax.select('.domain').remove();
  ax.selectAll('.tick line').attr('stroke', '#333');
  ax.selectAll('.tick text').attr('fill', '#333').style('font-size', '16px')
    .style('font-family', 'Lato, sans-serif');
}

function zoomBox(sc, t0, t1, v0, v1, box, fill) {
  const bx0 = sc.x(t0), bx1 = sc.x(t1), by0 = sc.y(v1), by1 = sc.y(v0);
  svg.append('rect').attr('x', bx0).attr('y', by0).attr('width', bx1 - bx0).attr('height', by1 - by0)
    .attr('fill', fill).attr('stroke', '#111').attr('stroke-width', 1.5).attr('stroke-dasharray', '5,3');
  svg.append('line').attr('x1', box.x0).attr('y1', box.y1).attr('x2', bx0).attr('y2', by0 + 2)
    .attr('stroke', '#111').attr('stroke-width', 1).attr('stroke-dasharray', '4,3');
  svg.append('line').attr('x1', box.x1).attr('y1', box.y1).attr('x2', bx1).attr('y2', by1)
    .attr('stroke', '#111').attr('stroke-width', 1).attr('stroke-dasharray', '4,3');
}

function legendSample(g, key, x0, x1, yy) {
  g.append('line').attr('x1', x0).attr('x2', x1).attr('y1', yy).attr('y2', yy).call(styleLine, key)
    .attr('stroke-width', key === 'gray' ? 1 : 1.6);
}

const insetBoxes = [
  { a: { x0: 228, x1: 335, y0: 8, y1: 61, labelW: 18 }, c: { x0: 237, x1: 343, y0: 205, y1: 256, labelW: 45 } },
  { a: { x0: 872, x1: 977, y0: 8, y1: 61, labelW: 18 }, c: { x0: 885, x1: 995, y0: 205, y1: 256, labelW: 45 } }
];
const insetSeries = [
  { a: [['red', insetToutRed], ['blue', insetToutBlue], ['green', insetToutGreenL]],
    c: [['gray', insetCompLowL], ['red', insetCompRedL], ['blue', insetCompBlueL], ['green', insetCompGreenL]] },
  { a: [['red', insetToutRed], ['blue', insetToutBlue], ['green', insetToutGreenR]],
    c: [['gray', insetCompLowR], ['red', insetCompRedR], ['blue', insetCompBlueR], ['green', insetCompGreenR]] }
];

[0, 1].forEach(c => {
  const sc = [0, 1, 2, 3, 4].map(p => drawPanel(c, p));
  const [x0, x1] = colX[c];
  const lx = c === 0 ? 24 : 665;
  yLabel(lx, 50, 'T', 'a,e', 'out', '  (°C)');
  yLabel(lx, 148, 'T', 'bat', null, '  (°C)');
  yLabel(lx, 240, 'ṁ', 'comp', null, ' (kg/s)');
  yLabel(lx, 333, 'ṁ', 'fan', null, ' (kg/s)');
  yLabel(lx, 425, 'ṁ', 'c', null, ' (w)');

  svg.append('text').attr('x', (x0 + x1) / 2).attr('y', 493).attr('text-anchor', 'middle')
    .attr('dominant-baseline', 'central').attr('font-size', 15).attr('fill', '#222').text('Time (s)');

  // zoom boxes + insets
  zoomBox(sc[0], 595, 738, 3, 9.3, insetBoxes[c].a, 'none');
  zoomBox(sc[2], 595, 738, -0.001, 0.0165, insetBoxes[c].c, 'rgba(130,170,90,0.28)');
  drawInset(insetBoxes[c].a, [4, 6.35], [4, 5, 6], [4.5, 5, 5.5], d => d, insetSeries[c].a);
  drawInset(insetBoxes[c].c, [0, 0.02], [0, 0.01, 0.02], [0.005, 0.01, 0.015], d => d, insetSeries[c].c);

  // main legend
  const lg = svg.append('g');
  const bx = x1 - 174, by = rowY[0][0] + 0.5;
  lg.append('rect').attr('x', bx).attr('y', by).attr('width', 173).attr('height', 36)
    .attr('fill', '#fff').attr('stroke', '#8a8a8a').attr('stroke-width', 1);
  const keys = ['red', 'blue', 'green', 'gray'];
  const pos = [[bx + 4, by + 10], [bx + 4, by + 27], [bx + 117, by + 10], [bx + 117, by + 27]];
  keys.forEach((k, i) => {
    legendSample(lg, k, pos[i][0], pos[i][0] + 16, pos[i][1]);
    lg.append('text').attr('x', pos[i][0] + 19).attr('y', pos[i][1]).attr('dominant-baseline', 'central')
      .attr('font-size', 12).attr('fill', '#222').text(legendNames[i]);
  });

  // bound legend
  const bg = svg.append('g');
  const b2x = x1 - 60, b2y = 214;
  bg.append('rect').attr('x', b2x).attr('y', b2y).attr('width', 59).attr('height', 19)
    .attr('fill', '#fff').attr('stroke', '#8a8a8a');
  legendSample(bg, 'gray', b2x + 3, b2x + 18, b2y + 9.5);
  bg.append('text').attr('x', b2x + 21).attr('y', b2y + 9.5).attr('dominant-baseline', 'central')
    .attr('font-size', 12.5).attr('fill', '#222').text('Bound');

  // panel letters on top
  [0, 1, 2, 3, 4].forEach(p => {
    svg.append('text').attr('x', (x0 + x1) / 2).attr('y', letterY[p])
      .attr('text-anchor', 'middle').attr('dominant-baseline', 'central')
      .attr('font-size', 14).attr('fill', '#222').text(panelLetters[c][p]);
  });

  if (c === 0) {
    // annotations
    const a = sc[0];
    svg.append('line').attr('x1', a.x(95)).attr('y1', a.y(30)).attr('x2', a.x(22)).attr('y2', a.y(6.5))
      .attr('stroke', '#111').attr('stroke-width', 1.3).attr('marker-end', 'url(#arrow)');
    svg.append('text').attr('x', a.x(102)).attr('y', a.y(26)).attr('dominant-baseline', 'central')
      .attr('font-size', 15).attr('fill', '#111').text('6 °C Target');
    const b = sc[1];
    svg.append('line').attr('x1', b.x(680)).attr('y1', b.y(37.05)).attr('x2', b.x(592)).attr('y2', b.y(36.08))
      .attr('stroke', '#111').attr('stroke-width', 1.3).attr('marker-end', 'url(#arrow)');
    svg.append('text').attr('x', b.x(686)).attr('y', b.y(37.25)).attr('dominant-baseline', 'central')
      .attr('font-size', 15).attr('fill', '#111').text('36 °C Target');
    const d = sc[3];
    svg.append('line').attr('x1', d.x(192)).attr('y1', d.y(1.42)).attr('x2', d.x(108)).attr('y2', d.y(0.78))
      .attr('stroke', '#111').attr('stroke-width', 1.3).attr('marker-end', 'url(#arrow)');
    svg.append('line').attr('x1', d.x(192)).attr('y1', d.y(1.42)).attr('x2', d.x(106)).attr('y2', d.y(0.06))
      .attr('stroke', '#111').attr('stroke-width', 1.3).attr('marker-end', 'url(#arrow)');
    svg.append('text').attr('x', d.x(197)).attr('y', d.y(1.48)).attr('dominant-baseline', 'central')
      .attr('font-size', 15).attr('fill', '#111').text('Fan bounds');
  }
});
</script>
</body>
</html>
